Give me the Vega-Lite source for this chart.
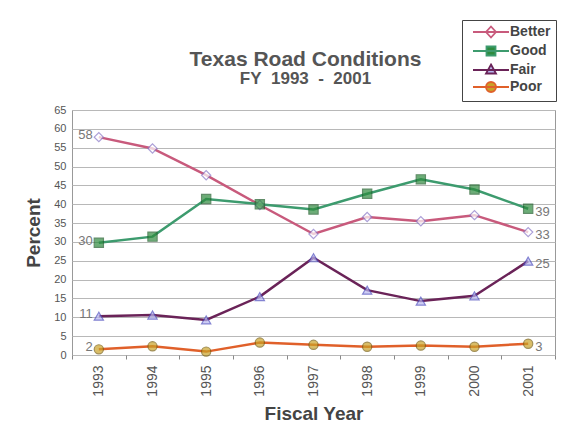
{
  "$schema": "https://vega.github.io/schema/vega-lite/v6.json",
  "width": 483,
  "height": 245,
  "autosize": {"type": "none"},
  "padding": {"left": 72, "top": 110, "right": 11, "bottom": 75},
  "background": "white",
  "title": {
    "text": "Texas Road Conditions",
    "subtitle": "FY\u00a0\u00a01993\u00a0\u00a0-\u00a0\u00a02001",
    "anchor": "middle",
    "frame": "group",
    "dx": -8,
    "offset": -67,
    "font": "Liberation Sans",
    "fontSize": 21,
    "fontWeight": "bold",
    "color": "#555555",
    "subtitleFont": "Liberation Sans",
    "subtitleFontSize": 17,
    "subtitleFontWeight": "bold",
    "subtitleColor": "#555555",
    "subtitlePadding": 1
  },
  "config": {
    "view": {"stroke": "#999999", "strokeWidth": 1},
    "font": "Liberation Sans",
    "axis": {"labelFont": "Liberation Sans", "titleFont": "Liberation Sans"}
  },
  "data": {
    "values": [
      {"year": "1993", "cat": "Better", "value": 57.8, "label": "58"},
      {"year": "1994", "cat": "Better", "value": 54.8},
      {"year": "1995", "cat": "Better", "value": 47.7},
      {"year": "1996", "cat": "Better", "value": 39.8},
      {"year": "1997", "cat": "Better", "value": 32.1},
      {"year": "1998", "cat": "Better", "value": 36.6},
      {"year": "1999", "cat": "Better", "value": 35.5},
      {"year": "2000", "cat": "Better", "value": 37.1},
      {"year": "2001", "cat": "Better", "value": 32.6, "label": "33"},
      {"year": "1993", "cat": "Good", "value": 29.8, "label": "30"},
      {"year": "1994", "cat": "Good", "value": 31.4},
      {"year": "1995", "cat": "Good", "value": 41.4},
      {"year": "1996", "cat": "Good", "value": 40.0},
      {"year": "1997", "cat": "Good", "value": 38.6},
      {"year": "1998", "cat": "Good", "value": 42.8},
      {"year": "1999", "cat": "Good", "value": 46.6},
      {"year": "2000", "cat": "Good", "value": 43.9},
      {"year": "2001", "cat": "Good", "value": 38.8, "label": "39"},
      {"year": "1993", "cat": "Fair", "value": 10.3, "label": "11"},
      {"year": "1994", "cat": "Fair", "value": 10.6},
      {"year": "1995", "cat": "Fair", "value": 9.3},
      {"year": "1996", "cat": "Fair", "value": 15.5},
      {"year": "1997", "cat": "Fair", "value": 25.8},
      {"year": "1998", "cat": "Fair", "value": 17.2},
      {"year": "1999", "cat": "Fair", "value": 14.3},
      {"year": "2000", "cat": "Fair", "value": 15.7},
      {"year": "2001", "cat": "Fair", "value": 24.9, "label": "25"},
      {"year": "1993", "cat": "Poor", "value": 1.5, "label": "2"},
      {"year": "1994", "cat": "Poor", "value": 2.3},
      {"year": "1995", "cat": "Poor", "value": 0.9},
      {"year": "1996", "cat": "Poor", "value": 3.3},
      {"year": "1997", "cat": "Poor", "value": 2.7},
      {"year": "1998", "cat": "Poor", "value": 2.2},
      {"year": "1999", "cat": "Poor", "value": 2.5},
      {"year": "2000", "cat": "Poor", "value": 2.2},
      {"year": "2001", "cat": "Poor", "value": 3.0, "label": "3"}
    ]
  },
  "encoding": {
    "x": {
      "field": "year",
      "type": "ordinal",
      "scale": {"type": "band", "paddingInner": 0, "paddingOuter": 0},
      "axis": {
        "title": "Fiscal Year",
        "titleFontSize": 19,
        "titleFontWeight": "bold",
        "titleColor": "#444444",
        "titlePadding": 8,
        "labelAngle": -90,
        "labelFontSize": 14,
        "labelColor": "#555555",
        "labelPadding": 6,
        "tickBand": "extent",
        "tickColor": "#888888",
        "tickSize": 4,
        "domain": false,
        "grid": false
      }
    },
    "y": {
      "field": "value",
      "type": "quantitative",
      "scale": {"domain": [0, 65], "nice": false},
      "axis": {
        "title": "Percent",
        "titleFontSize": 19,
        "titleFontWeight": "bold",
        "titleColor": "#444444",
        "titlePadding": 10,
        "values": [0, 5, 10, 15, 20, 25, 30, 35, 40, 45, 50, 55, 60, 65],
        "labelFontSize": 11,
        "labelColor": "#555555",
        "labelPadding": 6,
        "ticks": false,
        "domain": false,
        "grid": true,
        "gridColor": "#b8b8b8",
        "gridWidth": 1
      }
    }
  },
  "layer": [
    {
      "mark": {"type": "line", "strokeWidth": 2.5},
      "encoding": {
        "stroke": {
          "field": "cat",
          "type": "nominal",
          "sort": ["Better", "Good", "Fair", "Poor"],
          "scale": {"domain": ["Better", "Good", "Fair", "Poor"], "range": ["#c85a7c", "#3d9b6e", "#6a2358", "#e0602a"]},
          "legend": {
            "title": null,
            "orient": "none",
            "legendX": 390,
            "legendY": -90,
            "symbolType": "M-0.2,0L7,0",
            "symbolSize": 100,
            "symbolStrokeWidth": 1.8,
            "labelFont": "Liberation Sans",
            "labelFontSize": 14,
            "labelFontWeight": "bold",
            "labelColor": "#444444",
            "labelExpr": "datum.label + '\u2003\u2003'",
            "rowPadding": 0,
            "padding": 5,
            "strokeColor": "#444444",
            "fillColor": "white",
            "labelOffset": 29,
            "encode": {
              "symbols": {
                "update": {
                  "shape": {"signal": "datum.value == 'Better' ? 'M-0.2,0L7,0M3.4,-1.1L4.4,0L3.4,1.1L2.4,0Z' : datum.value == 'Good' ? 'M-0.2,0L7,0M2.5,-0.9H4.3V0.9H2.5Z' : datum.value == 'Fair' ? 'M-0.2,0L7,0M3.4,-1.1L4.4,0.7L2.4,0.7Z' : 'M-0.2,0L7,0M4.4,0A1,1 0 1 1 2.4,0A1,1 0 1 1 4.4,0Z'"},
                  "fill": {"signal": "datum.value == 'Better' ? '#ffffff' : datum.value == 'Good' ? '#2e8b3e' : datum.value == 'Fair' ? '#b8b8f0' : '#c9a227'"},
                  "fillOpacity": {"value": 1}
                }
              }
            }
          }
        }
      }
    },
    {
      "mark": {"type": "point", "filled": true, "size": 85, "strokeWidth": 1.2},
      "encoding": {
        "shape": {
          "field": "cat",
          "type": "nominal",
          "scale": {"domain": ["Better", "Good", "Fair", "Poor"], "range": ["diamond", "square", "triangle-up", "circle"]},
          "legend": null
        },
        "fill": {
          "field": "cat",
          "type": "nominal",
          "scale": {"domain": ["Better", "Good", "Fair", "Poor"], "range": ["#ffffff", "#2e8b3e", "#b8b8f0", "#c9a227"]},
          "legend": null
        },
        "stroke": {
          "field": "cat",
          "type": "nominal",
          "scale": {"domain": ["Better", "Good", "Fair", "Poor"], "range": ["#8a78c8", "#1f5e2a", "#5050c0", "#7a6010"]},
          "legend": null
        }
      }
    },
    {
      "transform": [{"filter": "datum.year == '1993'"}],
      "mark": {"type": "text", "align": "right", "dx": -6, "dy": -2, "fontSize": 13, "color": "#777777", "font": "Liberation Sans"},
      "encoding": {"text": {"field": "label"}}
    },
    {
      "transform": [{"filter": "datum.year == '2001'"}],
      "mark": {"type": "text", "align": "left", "dx": 7, "dy": 3, "fontSize": 13, "color": "#777777", "font": "Liberation Sans"},
      "encoding": {"text": {"field": "label"}}
    }
  ],
  "resolve": {"scale": {"stroke": "independent"}}
}
